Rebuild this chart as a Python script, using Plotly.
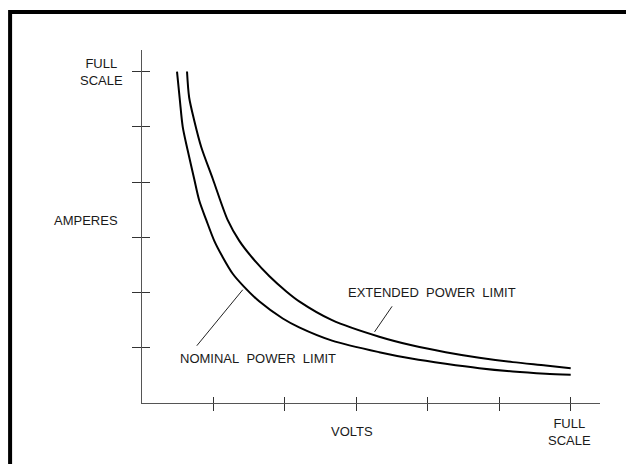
import plotly.graph_objects as go

# ---- data (axis units: 6 = full scale) ----
nominal_v = [0.49, 0.53, 0.57, 0.64, 0.73, 0.80, 0.90, 1.01, 1.13, 1.27, 1.41, 1.64, 1.97, 2.20, 2.66, 3.32, 3.79, 4.25, 4.72, 5.19, 5.65, 6.00]
nominal_a = [6.00, 5.48, 5.00, 4.57, 4.06, 3.67, 3.31, 2.94, 2.64, 2.34, 2.13, 1.84, 1.53, 1.37, 1.13, 0.92, 0.80, 0.71, 0.63, 0.57, 0.53, 0.51]

extended_v = [0.63, 0.66, 0.73, 0.83, 0.99, 1.20, 1.36, 1.55, 1.78, 2.02, 2.20, 2.66, 3.32, 3.79, 4.25, 4.72, 5.19, 5.65, 6.00]
extended_a = [6.00, 5.53, 5.12, 4.63, 4.06, 3.31, 2.94, 2.62, 2.30, 2.02, 1.84, 1.50, 1.20, 1.04, 0.92, 0.82, 0.74, 0.68, 0.63]

tick_vals = [1, 2, 3, 4, 5, 6]
x_label_text = ["VOLTS", "FULL<br>SCALE"]
x_label_pos = [2.94, 5.99]
y_label_text = ["AMPERES", "FULL<br>SCALE"]
y_label_pos = [3.31, 6.0]

curve_labels = ["NOMINAL\u00a0 POWER\u00a0 LIMIT", "EXTENDED\u00a0 POWER\u00a0 LIMIT"]
curve_label_pos = [(0.50, 0.81), (2.85, 2.00)]
leader_from = [(0.75, 1.01), (3.24, 1.26)]
leader_to = [(1.41, 2.05), (3.50, 1.75)]

FONT = "Liberation Sans, Arial, sans-serif"
INK = "#1a1a1a"

XR = [0, 6.41]
YR = [0, 6.39]


def px(x):
    return x / XR[1]


def py(y):
    return y / YR[1]


fig = go.Figure()
fig.add_trace(go.Scatter(x=nominal_v, y=nominal_a, mode="lines", line=dict(color="black", width=2, shape="spline", smoothing=0.8),
                         xaxis="x", yaxis="y", showlegend=False, hoverinfo="skip"))
fig.add_trace(go.Scatter(x=extended_v, y=extended_a, mode="lines", line=dict(color="black", width=2, shape="spline", smoothing=0.8),
                         xaxis="x2", yaxis="y2", showlegend=False, hoverinfo="skip"))

axis_common = dict(showgrid=False, zeroline=False, tickvals=tick_vals, showticklabels=False,
                   tickwidth=1, tickcolor="#333")
fig.update_layout(
    width=626, height=456,
    margin=dict(l=134, r=34, t=42, b=61),
    paper_bgcolor="white", plot_bgcolor="white",
    xaxis=dict(range=XR, showline=True, linecolor="#555", linewidth=1, ticks="outside", ticklen=7, **axis_common),
    yaxis=dict(range=YR, showline=True, linecolor="#555", linewidth=1, ticks="outside", ticklen=9, **axis_common),
    xaxis2=dict(range=XR, overlaying="x", showline=False, ticks="inside", ticklen=6, side="bottom", **axis_common),
    yaxis2=dict(range=YR, overlaying="y", showline=False, ticks="inside", ticklen=8, side="left", **axis_common),
    showlegend=False,
)

ann = []
for t, x in zip(x_label_text, x_label_pos):
    ann.append(dict(x=px(x), y=py(-0.52), xref="paper", yref="paper", text=t, showarrow=False,
                    xanchor="center", yanchor="middle", align="center",
                    font=dict(family=FONT, size=13, color=INK)))
for t, y in zip(y_label_text, y_label_pos):
    full = "FULL" in t
    ann.append(dict(x=px(-0.57 if full else -0.31), y=py(y), xref="paper", yref="paper", text=t, showarrow=False,
                    xanchor="center" if full else "right", yanchor="middle", align="center",
                    font=dict(family=FONT, size=13, color=INK)))
for t, (x, y) in zip(curve_labels, curve_label_pos):
    ann.append(dict(x=x, y=y, xref="x", yref="y", text=t, showarrow=False, xanchor="left", yanchor="middle",
                    font=dict(family=FONT, size=13, color=INK)))
for (x0, y0), (x1, y1) in zip(leader_from, leader_to):
    ann.append(dict(x=x1, y=y1, ax=x0, ay=y0, xref="x", yref="y", axref="x", ayref="y", text="",
                    showarrow=True, arrowhead=0, arrowwidth=1, arrowcolor="#222"))
fig.update_layout(annotations=ann)

# frame around the drawing (only top and left edges fall inside the picture)
fig.add_shape(type="rect", xref="paper", yref="paper", x0=-0.288, x1=1.1, y0=-0.2, y1=1.108,
              line=dict(color="black", width=4))

fig.write_html("out.html")
